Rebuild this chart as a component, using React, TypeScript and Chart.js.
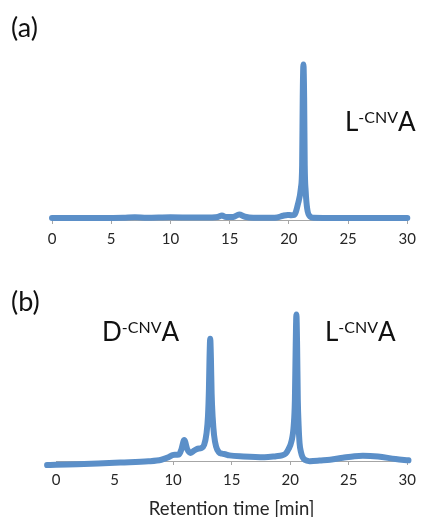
import React, { useEffect, useRef } from "react";
import { Chart, registerables } from "chart.js";

Chart.register(...registerables);

// ---- data ----
const xTicks = [0, 5, 10, 15, 20, 25, 30];

const timesA = [0, 2, 4, 6, 7, 8, 10, 12, 13.5, 14.0, 14.35, 14.7, 15.3, 15.8, 16.3, 17, 18, 19, 19.5, 19.9, 20.2, 20.46, 20.77, 21.02, 21.12, 21.17, 21.23, 21.29, 21.34, 21.42, 21.55, 21.8, 22.1, 24, 26, 28, 30];
const signalA = [1.2, 1.2, 1.2, 1.3, 1.6, 1.3, 1.6, 1.4, 1.5, 1.8, 2.6, 1.7, 1.8, 3.2, 1.9, 1.3, 1.3, 1.5, 2.5, 3.0, 2.8, 3.0, 9.5, 19, 32, 72, 91.5, 72, 32, 17, 6.5, 2, 1.3, 1.2, 1.2, 1.2, 1.2];

const timesB = [-0.76, 0, 1.8, 3.6, 5.5, 7.9, 9.0, 9.6, 10.0, 10.5, 10.72, 10.95, 11.2, 11.5, 11.8, 12.1, 12.4, 12.65, 12.85, 12.98, 13.06, 13.11, 13.17, 13.23, 13.29, 13.38, 13.5, 13.67, 13.9, 14.2, 14.45, 14.8, 16, 17.8, 18.8, 19.3, 19.6, 19.86, 20.1, 20.3, 20.4, 20.47, 20.53, 20.59, 20.65, 20.72, 20.8, 20.92, 21.05, 21.3, 21.7, 22.5, 23.4, 24.5, 25.5, 26.2, 27.5, 29.0, 30.1];
const signalB = [-2.5, -2.3, -2.0, -1.6, -1.0, -0.2, 0.8, 2.3, 3.8, 4.0, 7.5, 13, 7.5, 5, 6.5, 7.6, 8, 10, 17, 28, 45, 64, 76, 64, 42, 27, 16, 9, 5.5, 4.5, 4.2, 3.5, 2.8, 2.3, 3, 3.5, 4.5, 7.5, 12, 22, 38, 72, 91, 72, 38, 22, 11, 5.5, 2.5, 0.5, -0.2, 0.3, 0.8, 2, 3, 3.3, 2.8, 1.2, 0.4];

const xTitle = "Retention time [min]";

const LINE_COLOR = "#5b8fc8";
const AXIS_COLOR = "#a6a6a6";
const TEXT_COLOR = "#262626";
const FONT = "Lato";

function makeConfig(times: number[], values: number[], opts: { padding: any; axisHeight: number; title?: string }) {
  return {
    type: "line" as const,
    data: {
      datasets: [
        {
          data: times.map((t, i) => ({ x: t, y: values[i] })),
          borderColor: LINE_COLOR,
          borderWidth: 6,
          pointRadius: 0,
          fill: false,
          cubicInterpolationMode: "monotone" as const,
          borderJoinStyle: "round" as const,
          borderCapStyle: "round" as const,
          clip: false as any,
        },
      ],
    },
    options: {
      animation: false as const,
      responsive: false,
      events: [],
      layout: { padding: opts.padding },
      plugins: { legend: { display: false }, tooltip: { enabled: false } },
      scales: {
        x: {
          type: "linear" as const,
          min: 0,
          max: 30,
          afterBuildTicks: (scale: any) => {
            scale.ticks = xTicks.map((v) => ({ value: v }));
          },
          afterFit: (scale: any) => {
            scale.height = opts.axisHeight;
          },
          grid: {
            display: true,
            drawOnChartArea: false,
            drawTicks: true,
            tickLength: 4,
            color: AXIS_COLOR,
            lineWidth: 1,
          },
          border: { display: true, color: AXIS_COLOR, width: 1 },
          ticks: {
            padding: 6,
            maxRotation: 0,
            color: TEXT_COLOR,
            font: { family: FONT, size: 15 },
          },
          title: opts.title
            ? {
                display: true,
                text: opts.title,
                color: TEXT_COLOR,
                font: { family: FONT, size: 18.5 },
                padding: { top: 0, bottom: -3 },
              }
            : { display: false },
        },
        y: { display: false, min: 0, max: 100 },
      },
    },
  };
}

function ChartCanvas(props: { width: number; height: number; top: number; config: any }) {
  const ref = useRef<HTMLCanvasElement | null>(null);
  useEffect(() => {
    if (!ref.current) return;
    const chart = new Chart(ref.current, props.config);
    return () => chart.destroy();
  }, []);
  return (
    <canvas
      ref={ref}
      width={props.width}
      height={props.height}
      style={{ position: "absolute", left: 0, top: props.top, width: props.width, height: props.height, display: "block" }}
    />
  );
}

function PeakLabel(props: { left: number; top: number; prefix: string }) {
  return (
    <div
      style={{
        position: "absolute",
        left: props.left,
        top: props.top,
        fontFamily: FONT,
        fontSize: 26,
        lineHeight: 1,
        color: "#111",
        whiteSpace: "nowrap",
      }}
    >
      {props.prefix}
      <span style={{ fontSize: 16, verticalAlign: "8px" }}>-CNV</span>A
    </div>
  );
}

function PanelLabel(props: { left: number; top: number; text: string }) {
  return (
    <div
      style={{
        position: "absolute",
        left: props.left,
        top: props.top,
        fontFamily: FONT,
        fontSize: 27,
        lineHeight: 1,
        color: "#111",
      }}
    >
      {props.text}
    </div>
  );
}

export default function App() {
  const configA = makeConfig(timesA, signalA, {
    padding: { left: 52, right: 13, top: 50, bottom: 10 },
    axisHeight: 30,
  });
  const configB = makeConfig(timesB, signalB, {
    padding: { left: 56, right: 10, top: 40, bottom: 0 },
    axisHeight: 56,
    title: xTitle,
  });
  return (
    <div style={{ position: "absolute", left: 0, top: 0, width: 422, height: 517, background: "#fff", overflow: "hidden" }}>
      <ChartCanvas width={422} height={260} top={0} config={configA} />
      <ChartCanvas width={422} height={257} top={260} config={configB} />
      <PanelLabel left={11} top={13} text="(a)" />
      <PanelLabel left={11} top={287} text="(b)" />
      <PeakLabel left={345} top={108} prefix="L" />
      <PeakLabel left={102} top={318} prefix="D" />
      <PeakLabel left={325} top={318} prefix="L" />
    </div>
  );
}
